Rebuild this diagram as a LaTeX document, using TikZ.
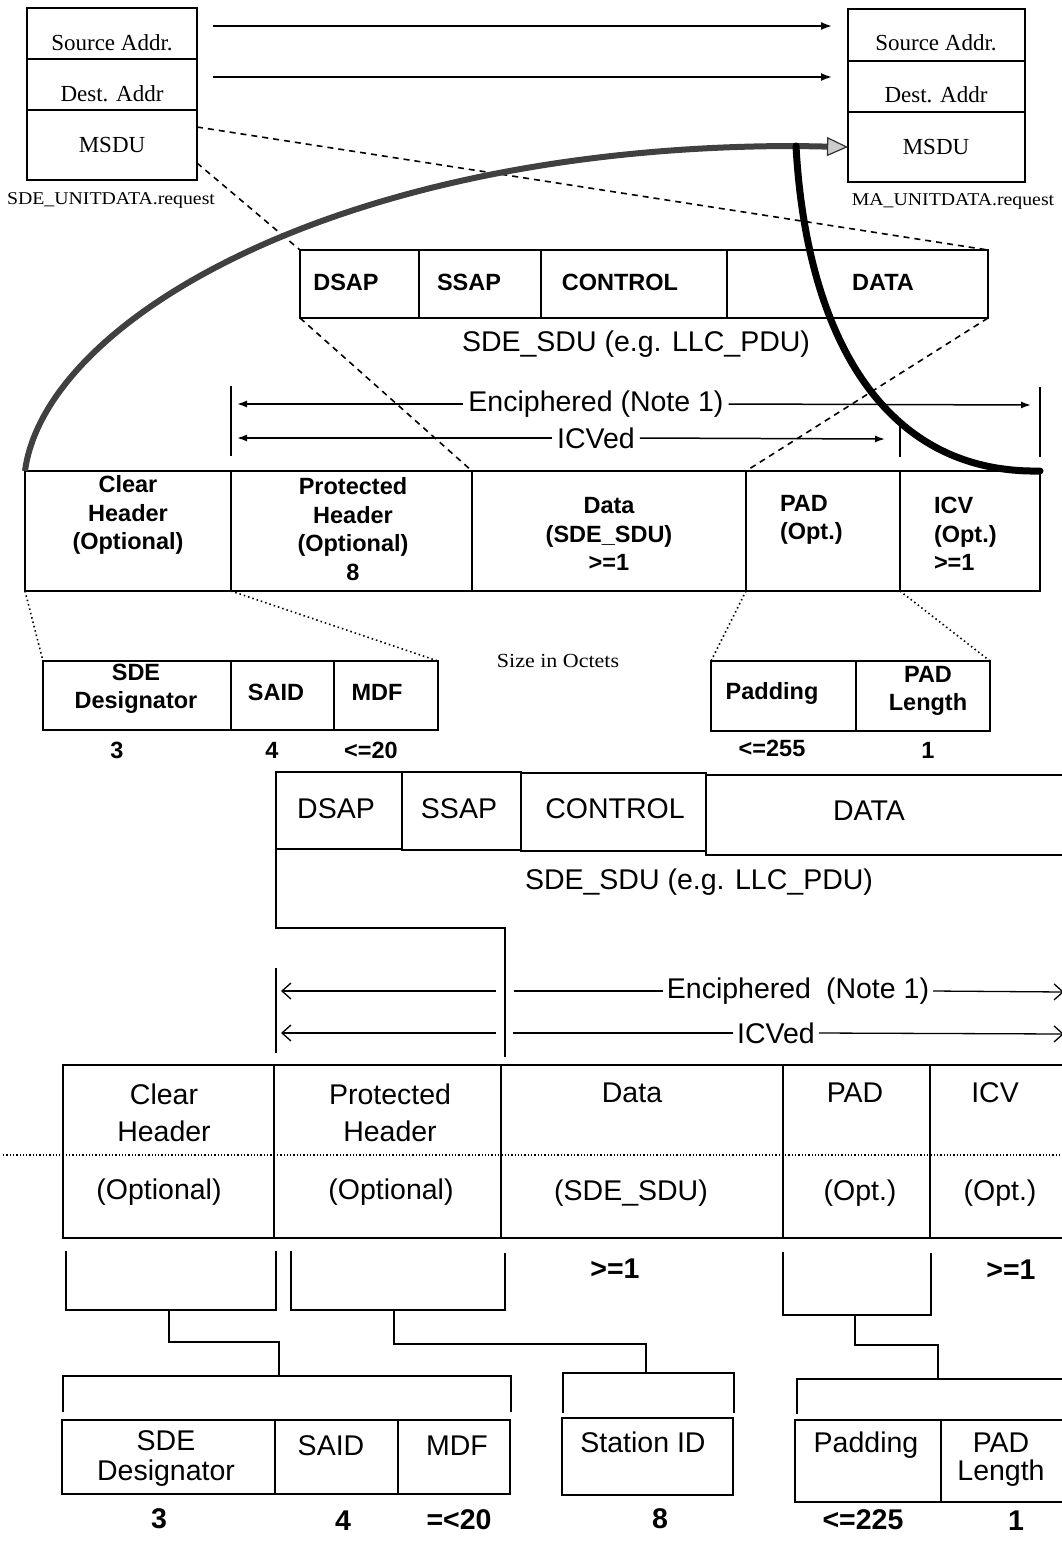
\documentclass[tikz,border=0pt]{standalone}
\usepackage{fontspec}
\setmainfont{Liberation Sans}
\newfontfamily\serifface{Liberation Serif}
\newfontfamily\serifwide[FakeStretch=1.1]{Liberation Serif}
\usetikzlibrary{arrows.meta,calc}

\begin{document}
\begin{tikzpicture}[x=1pt,y=-1pt,
  every node/.style={inner sep=0pt, outer sep=0pt},
  cell/.style={draw, line width=1.8pt, anchor=north west},
  bcell/.style={draw, line width=2.2pt, anchor=north west},
  wh/.style 2 args={minimum width=#1pt, minimum height=#2pt},
  lbl/.style={align=center, font=\fontsize{23.5pt}{28.5pt}\selectfont\bfseries},
  big/.style={align=center, font=\fontsize{28.5pt}{37pt}\selectfont},
  bigsz/.style={font=\fontsize{28.5pt}{37pt}\selectfont\bfseries},
  rom/.style={font=\serifface\fontsize{23pt}{28pt}\selectfont},
  romw/.style={font=\serifwide\fontsize{18pt}{22pt}\selectfont},
  flow/.style={line width=1.8pt, -{Latex[length=11pt,width=8pt]}},
  dashlink/.style={line width=1.6pt, dash pattern=on 6pt off 5pt},
  dotlink/.style={line width=1.6pt, dash pattern=on 1.5pt off 3pt},
  span/.style={line width=1.5pt, -{Latex[length=10pt,width=7pt]}},
  openspan/.style={line width=1.3pt, -{Straight Barb[length=9pt,width=16pt]}},
  bar/.style={line width=2pt},
  brk/.style={line width=1.6pt},
]
\fill[white] (0,0) rectangle (1062,1542);
\useasboundingbox (0,0) rectangle (1062,1542);

% ---------- service primitives ----------
\node[cell, wh={170}{51}] (srcL) at (27,8) {};
\node[cell, wh={170}{51}] (dstL) at (27,59) {};
\node[cell, wh={170}{70}] (msduL) at (27,110) {};
\node[rom] (srcLt) at (112,43) {Source Addr.};
\node[rom] (dstLt) at (112,94) {Dest. Addr};
\node[rom] (msduLt) at (112,145) {MSDU};
\node[romw] (reqL) at (111,200) {SDE\_UNITDATA.request};

\node[cell, wh={177}{52}] (srcR) at (848,9) {};
\node[cell, wh={177}{51}] (dstR) at (848,61) {};
\node[cell, wh={177}{70}] (rMsdu) at (848,112) {};
\node[rom] (srcRt) at (936,43) {Source Addr.};
\node[rom] (dstRt) at (936,95) {Dest. Addr};
\node[rom] (msduRt) at (936,147) {MSDU};
\node[romw] (reqR) at (953,201) {MA\_UNITDATA.request};

\coordinate (fsA) at (213,26);  \coordinate (feA) at (832,26);
\coordinate (fsB) at (213,77);  \coordinate (feB) at (832,77);
\draw[flow] (fsA) -- (feA);
\draw[flow] (fsB) -- (feB);

% ---------- SDE_SDU (upper) ----------
\node[cell, wh={119}{68}] (tDsap) at (300,250) {};
\node[cell, wh={122}{68}] (tSsap) at (419,250) {};
\node[cell, wh={186}{68}] (tCtrl) at (541,250) {};
\node[cell, wh={261}{68}] (tDataS) at (727,250) {};
\node[lbl] (tDsapT) at (346,282) {DSAP};
\node[lbl] (tSsapT) at (469,282) {SSAP};
\node[lbl] (tCtrlT) at (620,282) {CONTROL};
\node[lbl] (tDataST) at (883,282) {DATA};
\node[big] (tSdu) at (636,344) {SDE\_SDU (e.g. LLC\_PDU)};

% ---------- protected frame (upper) ----------
\node[cell, wh={206}{120}] (tClear) at (25,471) {};
\node[cell, wh={241}{120}] (tProt) at (231,471) {};
\node[cell, wh={274}{120}] (tData) at (472,471) {};
\node[cell, wh={154}{120}] (tPad) at (746,471) {};
\node[cell, wh={140}{120}] (tIcv) at (900,471) {};
\node[lbl] (tClearT) at (128,515) {Clear\\Header\\(Optional)};
\node[lbl] (tProtT) at (353,529) {Protected\\Header\\(Optional)\\8};
\node[lbl] (tDataT) at (609,534) {Data\\(SDE\_SDU)\\>=1};
\node[lbl, align=left, anchor=west] (tPadT) at (780,520) {PAD\\(Opt.)};
\node[lbl, align=left, anchor=west] (tIcvT) at (934,534) {ICV\\(Opt.)\\>=1};

% coverage spans (upper)
\draw[bar] (231,386) -- (231,456);
\draw[bar] (1040,387) -- (1040,457);
\draw[bar] (900,422) -- (900,457);
\node[big, inner xsep=5pt] (encTop) at (596,404) {Enciphered (Note 1)};
\node[big, inner xsep=5pt] (icvdTop) at (596,438) {ICVed};
\coordinate (encTL) at (237,404); \coordinate (encTR) at (1031,405);
\coordinate (icvdTL) at (237,438); \coordinate (icvdTR) at (885,439);
\draw[span] (encTop.west) -- (encTL);
\draw[span] (encTop.east) -- (encTR);
\draw[span] (icvdTop.west) -- (icvdTL);
\draw[span] (icvdTop.east) -- (icvdTR);

% sub-fields (upper)
\node[cell, wh={188}{69}] (tSde) at (43,661) {};
\node[cell, wh={103}{69}] (tSaid) at (231,661) {};
\node[cell, wh={104}{69}] (tMdf) at (334,661) {};
\node[cell, wh={145}{70}] (tPadding) at (711,661) {};
\node[cell, wh={134}{70}] (tPadLen) at (856,661) {};
\node[lbl] (tSdeT) at (136,689) {SDE\\Designator};
\node[lbl] (tSaidT) at (276,692) {SAID};
\node[lbl] (tMdfT) at (377,692) {MDF};
\node[lbl] (tPaddingT) at (772,693) {Padding};
\node[lbl] (tPadLenT) at (928,691) {PAD\\Length};
\node[lbl] (tSz1) at (117,750) {3};
\node[lbl] (tSz2) at (272,750) {4};
\node[lbl] (tSz3) at (371,750) {<=20};
\node[lbl] (tSz4) at (772,748) {<=255};
\node[lbl] (tSz5) at (928,750) {1};
\node[romw, font=\serifwide\fontsize{20pt}{24pt}\selectfont] (octets) at (558,661) {Size in Octets};

% mapping lines
\draw[dashlink] ($(msduL.north east)+(0,17)$) -- (tDataS.north east);
\draw[dashlink] ($(msduL.south east)+(0,-17)$) -- (tDsap.north west);
\draw[dashlink] (tDsap.south west) -- (tProt.north east);
\draw[dashlink] (tDataS.south east) -- (tPad.north west);
\draw[dotlink] (tClear.south west) -- (tSde.north west);
\draw[dotlink] (tProt.south west) -- (tMdf.north east);
\draw[dotlink] (tPad.south west) -- (tPadding.north west);
\draw[dotlink] (tPad.south east) -- (tPadLen.north east);

% MSDU carries the whole protected frame
\coordinate (jn) at (796,146);
\draw[line width=6pt, draw=black!75,
  -{Triangle[length=21pt,width=19pt,fill=gray!40,color=black!80,line width=1.2pt]}]
  (tClear.north west) .. controls (45,320) and (340,146) .. (jn) -- (rMsdu.west);
\draw[line width=7pt, line cap=round]
  (jn) .. controls (806,330) and (880,474) .. (tIcv.north east);

% ---------- SDE_SDU (lower) ----------
\node[bcell, wh={126}{77}] (bDsap) at (276,772) {};
\node[bcell, wh={119}{78}] (bSsap) at (402,772) {};
\node[bcell, wh={185}{78}] (bCtrl) at (521,773) {};
\node[bcell, wh={370}{80}] (bDataS) at (706,775) {};
\node[big] (bDsapT) at (336,809) {DSAP};
\node[big] (bSsapT) at (459,809) {SSAP};
\node[big] (bCtrlT) at (615,809) {CONTROL};
\node[big] (bDataST) at (869,811) {DATA};
\node[big] (bSdu) at (699,882) {SDE\_SDU (e.g. LLC\_PDU)};
\draw[brk] (bDsap.south west) |- (505,928) -- (505,1057);

% coverage spans (lower)
\draw[brk] (276,968) -- (276,1053);
\node[big, inner xsep=4pt] (encBot) at (798,991) {Enciphered\hspace{15pt}(Note 1)};
\node[big, inner xsep=4pt] (icvdBot) at (776,1033) {ICVed};
\coordinate (encBL0) at (496,991); \coordinate (encBL) at (281,991);
\coordinate (encBM) at (514,991); \coordinate (encBR) at (1064,992);
\coordinate (icvdBL0) at (496,1033); \coordinate (icvdBL) at (281,1033);
\coordinate (icvdBM) at (513,1033); \coordinate (icvdBR) at (1064,1034);
\draw[openspan] (encBL0) -- (encBL);
\draw[brk, line width=1.3pt] (encBM) -- (encBot.west);
\draw[openspan] (encBot.east) -- (encBR);
\draw[openspan] (icvdBL0) -- (icvdBL);
\draw[brk, line width=1.3pt] (icvdBM) -- (icvdBot.west);
\draw[openspan] (icvdBot.east) -- (icvdBR);

% ---------- protected frame (lower) ----------
\node[bcell, wh={211}{173}] (bClear) at (63,1065) {};
\node[bcell, wh={227}{173}] (bProt) at (274,1065) {};
\node[bcell, wh={282}{173}] (bData) at (501,1065) {};
\node[bcell, wh={147}{173}] (bPad) at (783,1065) {};
\node[bcell, wh={145}{173}] (bIcv) at (930,1065) {};
\draw[line width=1.3pt, dash pattern=on 1.3pt off 2pt] (3,1155) -- (1062,1155);
\node[big] (bClearT) at (164,1112.5) {Clear\\Header};
\node[big] (bClearO) at (159,1192) {(Optional)};
\node[big] (bProtT) at (390,1112.5) {Protected\\Header};
\node[big] (bProtO) at (391,1192) {(Optional)};
\node[big] (bDataT) at (632,1093) {Data};
\node[big] (bDataO) at (631,1193) {(SDE\_SDU)};
\node[big] (bPadT) at (855,1093) {PAD};
\node[big] (bPadO) at (860,1193) {(Opt.)};
\node[big] (bIcvT) at (995,1093) {ICV};
\node[big] (bIcvO) at (1000,1193) {(Opt.)};
\node[bigsz] (bDataSz) at (615,1269) {>=1};
\node[bigsz] (bIcvSz) at (1011,1270) {>=1};

% breakdown brackets
\draw[brk] (66,1251) |- (276,1310) -- (276,1251);
\draw[brk] (291,1251) |- (505,1310) -- (505,1253);
\draw[brk] (169,1310) |- (279,1342) -- (279,1376);
\draw[brk] (63,1412) |- (511,1376) -- (511,1412);
\draw[brk] (394,1310) |- (646,1344) -- (646,1373);
\draw[brk] (563,1413) |- (734,1373) -- (734,1413);
\draw[brk] (783,1252) |- (931,1315) -- (931,1253);
\draw[brk] (855,1315) |- (938,1345) -- (938,1379);
\draw[brk] (797,1414) |- (1070,1379);

% sub-fields (lower)
\node[bcell, wh={213}{74}] (bSde) at (62,1420) {};
\node[bcell, wh={123}{74}] (bSaid) at (275,1420) {};
\node[bcell, wh={112}{74}] (bMdf) at (398,1420) {};
\node[bcell, wh={171}{77}] (bStation) at (562,1418) {};
\node[bcell, wh={146}{82}] (bPadding) at (795,1420) {};
\node[bcell, wh={134}{82}] (bPadLen) at (941,1420) {};
\node[big, font=\fontsize{28.5pt}{30pt}\selectfont] (bSdeT) at (166,1458) {SDE\\Designator};
\node[big] (bSaidT) at (331,1446) {SAID};
\node[big] (bMdfT) at (457,1446) {MDF};
\node[big] (bStationT) at (643,1442) {Station ID};
\node[big] (bPaddingT) at (866,1445) {Padding};
\node[big, font=\fontsize{28.5pt}{28pt}\selectfont] (bPadLenT) at (1001,1460) {PAD\\Length};
\node[bigsz] (bSz1) at (159,1519) {3};
\node[bigsz] (bSz2) at (343,1521) {4};
\node[bigsz] (bSz3) at (459,1520) {=<20};
\node[bigsz] (bSz4) at (660,1519) {8};
\node[bigsz] (bSz5) at (863,1520) {<=225};
\node[bigsz] (bSz6) at (1016,1521) {1};
\end{tikzpicture}
\end{document}
